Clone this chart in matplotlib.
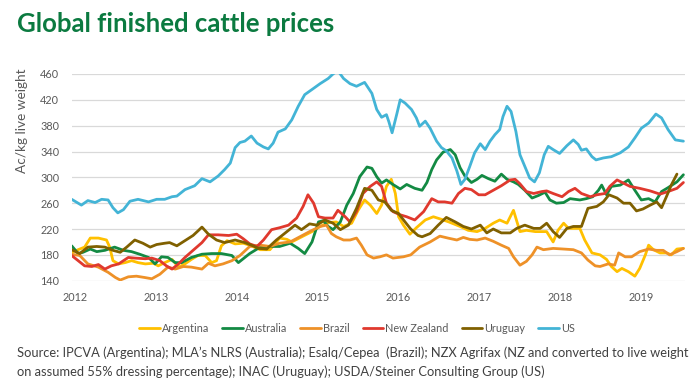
#Global finished cattle prices - line chart
import matplotlib
matplotlib.use('Agg')
import matplotlib.pyplot as plt

plt.rcParams['font.family'] = ['Lato', 'DejaVu Sans']

#Years (decimal) and prices in Ac/kg live weight
argentina_t = [2011.96, 2012.12, 2012.19, 2012.29, 2012.39, 2012.43, 2012.47, 2012.54, 2012.62, 2012.70,
               2012.78, 2012.87, 2012.97, 2013.03, 2013.11, 2013.20, 2013.28, 2013.36, 2013.44, 2013.52,
               2013.61, 2013.69, 2013.75, 2013.81, 2013.88, 2013.98, 2014.08, 2014.16, 2014.29, 2014.41,
               2014.53, 2014.62, 2014.68, 2014.82, 2014.93, 2015.03, 2015.13, 2015.23, 2015.32, 2015.42,
               2015.50, 2015.58, 2015.65, 2015.73, 2015.79, 2015.85, 2015.91, 2015.96, 2016.00, 2016.06,
               2016.14, 2016.22, 2016.33, 2016.43, 2016.53, 2016.62, 2016.76, 2016.86, 2016.97, 2017.07,
               2017.17, 2017.25, 2017.34, 2017.42, 2017.50, 2017.58, 2017.69, 2017.77, 2017.83, 2017.91,
               2017.97, 2018.04, 2018.10, 2018.16, 2018.24, 2018.30, 2018.39, 2018.49, 2018.57, 2018.63,
               2018.70, 2018.76, 2018.84, 2018.92, 2018.98, 2019.05, 2019.09, 2019.15, 2019.23, 2019.31,
               2019.37, 2019.44, 2019.52]
argentina_v = [184, 192, 206, 206, 203, 192, 171, 166, 168, 171,
               168, 166, 167, 163, 168, 173, 161, 166, 173, 179,
               179, 168, 171, 194, 202, 197, 198, 195, 188, 188,
               206, 204, 200, 209, 216, 224, 230, 231, 224, 229,
               249, 265, 257, 244, 257, 286, 297, 275, 239, 226,
               212, 222, 234, 239, 235, 231, 224, 218, 216, 221,
               229, 234, 229, 249, 216, 218, 216, 216, 216, 200,
               218, 229, 221, 221, 221, 203, 183, 180, 173, 162,
               154, 159, 154, 147, 159, 180, 195, 188, 183, 183,
               180, 189, 190]

australia_t = [2011.96, 2012.04, 2012.10, 2012.19, 2012.27, 2012.37, 2012.49, 2012.60, 2012.70, 2012.80,
               2012.91, 2012.99, 2013.07, 2013.15, 2013.24, 2013.32, 2013.44, 2013.57, 2013.69, 2013.81,
               2013.94, 2014.02, 2014.16, 2014.29, 2014.41, 2014.53, 2014.66, 2014.76, 2014.84, 2014.93,
               2015.01, 2015.07, 2015.13, 2015.19, 2015.28, 2015.36, 2015.44, 2015.52, 2015.61, 2015.67,
               2015.73, 2015.79, 2015.85, 2015.93, 2016.02, 2016.10, 2016.20, 2016.29, 2016.35, 2016.41,
               2016.47, 2016.55, 2016.64, 2016.70, 2016.76, 2016.82, 2016.90, 2016.97, 2017.03, 2017.11,
               2017.19, 2017.27, 2017.34, 2017.42, 2017.48, 2017.56, 2017.65, 2017.73, 2017.81, 2017.87,
               2017.95, 2018.04, 2018.12, 2018.24, 2018.32, 2018.40, 2018.47, 2018.51, 2018.57, 2018.63,
               2018.74, 2018.84, 2018.92, 2019.00, 2019.09, 2019.17, 2019.25, 2019.33, 2019.44, 2019.52]
australia_v = [194, 182, 184, 189, 185, 187, 192, 187, 185, 181,
               176, 166, 177, 176, 168, 168, 176, 181, 182, 182,
               179, 168, 182, 192, 193, 193, 198, 190, 182, 200,
               231, 233, 224, 219, 231, 257, 275, 301, 316, 314,
               301, 291, 296, 289, 282, 289, 283, 280, 292, 312,
               327, 339, 343, 335, 315, 302, 292, 297, 303, 298,
               294, 305, 297, 293, 289, 280, 268, 272, 277, 265,
               260, 261, 267, 265, 267, 270, 280, 288, 273, 286,
               288, 296, 280, 265, 267, 262, 278, 284, 293, 304]

brazil_t = [2011.96, 2012.06, 2012.16, 2012.29, 2012.41, 2012.50, 2012.56, 2012.66, 2012.76, 2012.86,
            2012.95, 2013.05, 2013.15, 2013.24, 2013.34, 2013.44, 2013.57, 2013.65, 2013.73, 2013.83,
            2013.94, 2014.04, 2014.16, 2014.29, 2014.41, 2014.53, 2014.66, 2014.78, 2014.90, 2015.03,
            2015.11, 2015.17, 2015.23, 2015.32, 2015.40, 2015.48, 2015.54, 2015.61, 2015.69, 2015.77,
            2015.85, 2015.93, 2016.06, 2016.15, 2016.26, 2016.39, 2016.51, 2016.61, 2016.72, 2016.80,
            2016.88, 2016.97, 2017.07, 2017.17, 2017.27, 2017.36, 2017.42, 2017.50, 2017.58, 2017.65,
            2017.71, 2017.79, 2017.91, 2018.04, 2018.16, 2018.26, 2018.34, 2018.43, 2018.49, 2018.59,
            2018.67, 2018.72, 2018.80, 2018.88, 2018.98, 2019.09, 2019.19, 2019.27, 2019.35, 2019.44,
            2019.52]
brazil_v = [181, 179, 166, 161, 153, 145, 141, 146, 147, 145,
            143, 150, 161, 158, 162, 161, 158, 167, 163, 166,
            171, 179, 193, 195, 193, 198, 200, 208, 216, 224,
            226, 213, 208, 203, 203, 206, 195, 180, 175, 177,
            180, 175, 177, 180, 192, 200, 209, 206, 203, 207,
            204, 203, 206, 201, 195, 190, 177, 164, 170, 180,
            192, 188, 190, 189, 188, 183, 172, 163, 162, 166,
            164, 183, 177, 177, 185, 189, 187, 187, 180, 185,
            190]

nz_t = [2011.96, 2012.04, 2012.12, 2012.21, 2012.29, 2012.37, 2012.45, 2012.54, 2012.66, 2012.74,
        2012.87, 2012.95, 2013.05, 2013.13, 2013.20, 2013.28, 2013.36, 2013.46, 2013.57, 2013.65,
        2013.77, 2013.90, 2014.00, 2014.08, 2014.16, 2014.25, 2014.33, 2014.43, 2014.53, 2014.64,
        2014.74, 2014.82, 2014.88, 2014.95, 2015.01, 2015.09, 2015.19, 2015.25, 2015.34, 2015.40,
        2015.48, 2015.56, 2015.65, 2015.73, 2015.79, 2015.85, 2015.93, 2016.02, 2016.10, 2016.20,
        2016.31, 2016.41, 2016.49, 2016.57, 2016.66, 2016.74, 2016.82, 2016.90, 2016.99, 2017.07,
        2017.17, 2017.27, 2017.38, 2017.44, 2017.50, 2017.58, 2017.67, 2017.77, 2017.83, 2017.91,
        2018.02, 2018.10, 2018.18, 2018.26, 2018.37, 2018.45, 2018.55, 2018.61, 2018.70, 2018.78,
        2018.86, 2018.98, 2019.11, 2019.23, 2019.33, 2019.44, 2019.52]
nz_v = [179, 171, 163, 162, 165, 158, 163, 166, 176, 175,
        174, 175, 171, 163, 158, 166, 176, 187, 199, 211,
        211, 210, 212, 205, 197, 193, 203, 219, 222, 226,
        237, 255, 273, 260, 239, 237, 237, 249, 239, 231,
        247, 275, 286, 293, 286, 260, 247, 242, 239, 234,
        247, 267, 262, 262, 260, 275, 283, 281, 273, 273,
        280, 287, 296, 297, 290, 278, 275, 278, 279, 275,
        270, 278, 283, 275, 270, 273, 275, 286, 296, 291,
        286, 283, 279, 274, 278, 283, 292]

uruguay_t = [2011.96, 2012.06, 2012.16, 2012.27, 2012.37, 2012.47, 2012.56, 2012.64, 2012.74, 2012.84,
             2012.93, 2013.01, 2013.11, 2013.17, 2013.26, 2013.36, 2013.46, 2013.52, 2013.57, 2013.65,
             2013.75, 2013.85, 2013.98, 2014.10, 2014.20, 2014.27, 2014.37, 2014.49, 2014.62, 2014.72,
             2014.80, 2014.90, 2014.99, 2015.09, 2015.19, 2015.28, 2015.38, 2015.48, 2015.58, 2015.67,
             2015.75, 2015.83, 2015.91, 2016.00, 2016.08, 2016.15, 2016.24, 2016.29, 2016.39, 2016.49,
             2016.59, 2016.70, 2016.80, 2016.90, 2017.01, 2017.09, 2017.17, 2017.27, 2017.38, 2017.46,
             2017.56, 2017.67, 2017.75, 2017.83, 2017.91, 2017.99, 2018.08, 2018.16, 2018.26, 2018.34,
             2018.45, 2018.53, 2018.60, 2018.70, 2018.78, 2018.86, 2018.94, 2019.02, 2019.11, 2019.19,
             2019.25, 2019.31, 2019.37, 2019.44]
uruguay_v = [188, 182, 192, 193, 192, 187, 184, 192, 203, 198,
             192, 196, 198, 199, 194, 202, 210, 217, 223, 212,
             203, 199, 203, 199, 194, 190, 189, 203, 216, 226,
             219, 228, 226, 234, 229, 219, 226, 252, 283, 280,
             265, 262, 249, 244, 231, 220, 210, 208, 213, 226,
             238, 231, 224, 220, 226, 214, 220, 214, 214, 221,
             226, 221, 221, 229, 216, 207, 221, 224, 224, 252,
             255, 262, 273, 268, 260, 260, 248, 251, 257, 262,
             253, 270, 288, 305]

us_t = [2011.96, 2012.08, 2012.16, 2012.25, 2012.33, 2012.41, 2012.47, 2012.53, 2012.60, 2012.68,
        2012.78, 2012.91, 2013.01, 2013.11, 2013.20, 2013.26, 2013.36, 2013.48, 2013.57, 2013.67,
        2013.77, 2013.85, 2013.92, 2013.98, 2014.04, 2014.10, 2014.18, 2014.25, 2014.33, 2014.39,
        2014.45, 2014.51, 2014.60, 2014.68, 2014.76, 2014.84, 2014.93, 2015.03, 2015.13, 2015.19,
        2015.25, 2015.32, 2015.40, 2015.48, 2015.58, 2015.67, 2015.73, 2015.79, 2015.85, 2015.88,
        2015.92, 2015.98, 2016.02, 2016.08, 2016.16, 2016.22, 2016.26, 2016.33, 2016.39, 2016.47,
        2016.53, 2016.59, 2016.66, 2016.72, 2016.77, 2016.82, 2016.88, 2016.94, 2017.01, 2017.07,
        2017.13, 2017.19, 2017.25, 2017.29, 2017.34, 2017.39, 2017.45, 2017.50, 2017.56, 2017.62,
        2017.68, 2017.74, 2017.80, 2017.85, 2017.91, 2017.99, 2018.08, 2018.16, 2018.22, 2018.26,
        2018.32, 2018.39, 2018.44, 2018.53, 2018.63, 2018.74, 2018.84, 2018.92, 2019.00, 2019.09,
        2019.18, 2019.25, 2019.33, 2019.42, 2019.52]
us_v = [266, 257, 264, 261, 266, 265, 253, 245, 250, 263,
        266, 262, 266, 266, 270, 271, 281, 287, 298, 293,
        302, 312, 322, 346, 354, 356, 364, 353, 347, 344,
        353, 370, 375, 389, 410, 428, 436, 445, 453, 460,
        465, 453, 445, 441, 447, 430, 405, 393, 397, 386,
        369, 399, 420, 415, 405, 392, 379, 387, 376, 356,
        346, 341, 330, 310, 289, 297, 317, 338, 352, 343,
        356, 366, 374, 394, 410, 402, 371, 335, 317, 299,
        293, 307, 335, 348, 343, 337, 349, 358, 351, 342,
        344, 332, 327, 330, 332, 338, 347, 361, 376, 384,
        398, 392, 374, 358, 356]

names = ['Argentina', 'Australia', 'Brazil', 'New Zealand', 'Uruguay', 'US']
colors = ['#ffc000', '#138a43', '#ee9128', '#e0392e', '#806000', '#43b4d6']
series = [(argentina_t, argentina_v), (australia_t, australia_v), (brazil_t, brazil_v),
          (nz_t, nz_v), (uruguay_t, uruguay_v), (us_t, us_v)]
year_ticks = [2012, 2013, 2014, 2015, 2016, 2017, 2018, 2019]
price_ticks = [140, 180, 220, 260, 300, 340, 380, 420, 460]

fig = plt.figure(figsize=(7, 3.89), dpi=100)
#axes box in figure fractions (left, bottom, width, height)
ax = fig.add_axes([0.1024, 0.2784, 0.8762, 0.5314])

lines = []
for (t, v), name, c in zip(series, names, colors):
    ln, = ax.plot(t, v, color=c, lw=2, solid_joinstyle='round', solid_capstyle='round', label=name)
    lines.append(ln)

ax.set_xlim(2011.96, 2019.54)
ax.set_ylim(140, 460)
ax.set_yticks(price_ticks)
ax.set_xticks(year_ticks)
ax.grid(axis='y', color='#d9d9d9', lw=0.9)
ax.set_axisbelow(True)
for s in ax.spines.values():
    s.set_visible(False)
ax.tick_params(axis='both', length=0, colors='#595959', labelsize=7.8)
ax.tick_params(axis='y', pad=9)
ax.tick_params(axis='x', pad=8)

fig.text(0.031, 1 - 121 / 389, 'Ac/kg live weight', rotation=90, ha='center', va='center',
         color='#595959', fontsize=9.8)

fig.text(17 / 700, 1 - 24 / 389, 'Global finished cattle prices', ha='left', va='center',
         color='#0b7a40', fontsize=18.5, fontweight='bold')

fig.legend(lines, names, loc='center', bbox_to_anchor=(357 / 700, 1 - 328 / 389), ncol=6,
           frameon=False, fontsize=7.8, handlelength=1.9, handletextpad=0.2, columnspacing=1.2,
           labelcolor='#595959')

fig.text(17 / 700, 1 - 353 / 389,
         "Source: IPCVA (Argentina); MLA\u2019s NLRS (Australia); Esalq/Cepea  (Brazil); NZX Agrifax (NZ and converted to live weight",
         ha='left', va='center', color='#404040', fontsize=9.3)
fig.text(17 / 700, 1 - 372 / 389,
         'on assumed 55% dressing percentage); INAC (Uruguay); USDA/Steiner Consulting Group (US)',
         ha='left', va='center', color='#404040', fontsize=9.3)

fig.savefig('out.png', dpi=100)
